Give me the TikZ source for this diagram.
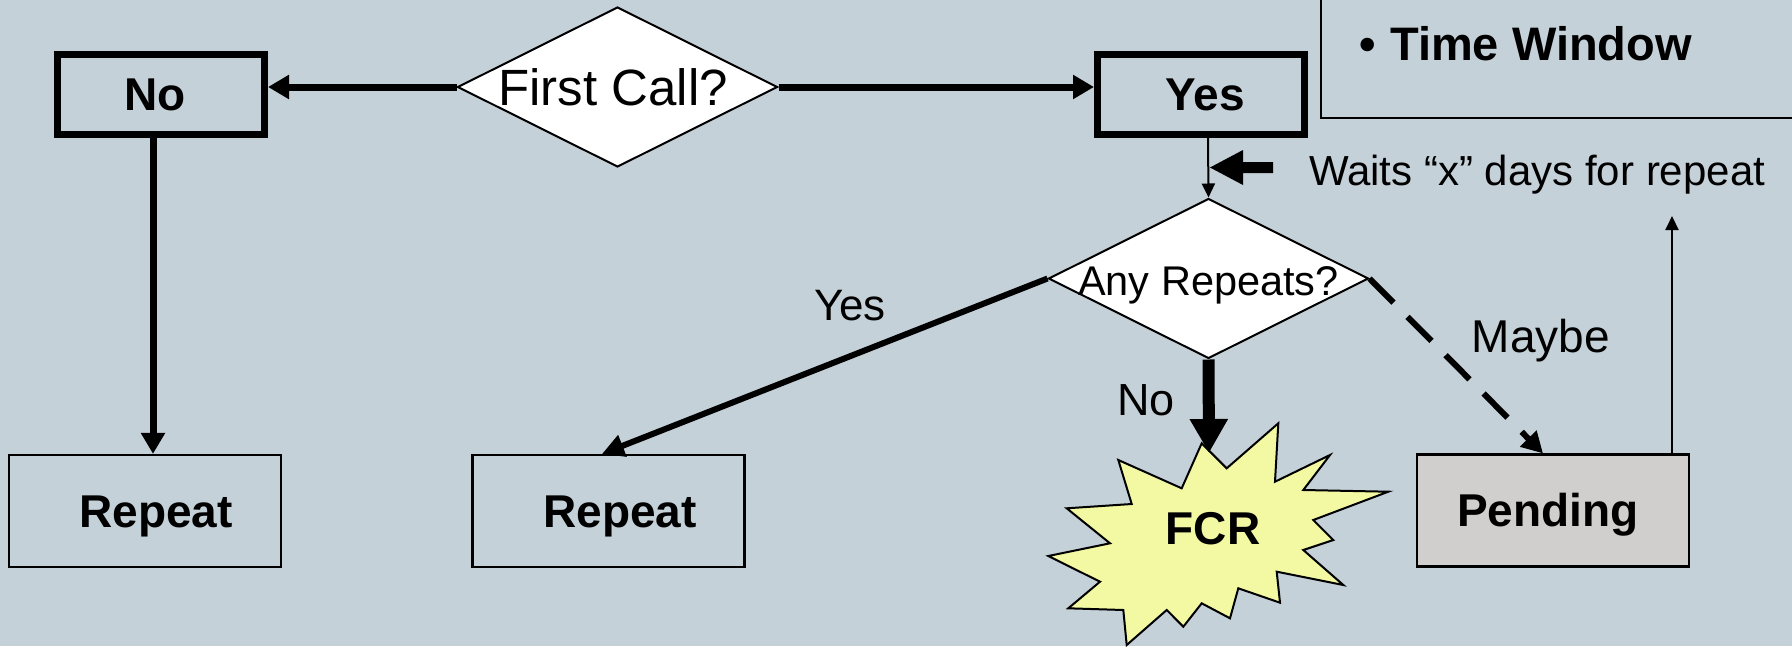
\documentclass[tikz,border=0pt]{standalone}
\usepackage{fontspec}
\setmainfont{Liberation Sans}
\usetikzlibrary{shapes.geometric,arrows.meta}
\definecolor{bgc}{RGB}{197,209,216}
\definecolor{fcrfill}{RGB}{243,249,162}
\definecolor{pendfill}{RGB}{208,207,205}
\tikzset{
  diag/.style={diamond, draw, fill=white, line width=2pt, inner sep=0pt,
    minimum width=320pt, minimum height=160pt},
  thickbox/.style={rectangle, draw, line width=7pt, inner sep=0pt,
    minimum width=207pt, minimum height=80pt},
  thinbox/.style={rectangle, draw, line width=2.2pt, inner sep=0pt,
    minimum width=272pt, minimum height=112pt},
  boldtxt/.style={inner sep=0pt, font=\fontsize{46}{55}\selectfont\bfseries,
    text height=32.9pt, text depth=0pt},
  fctxt/.style={inner sep=0pt, font=\fontsize{51}{60}\selectfont,
    text height=36.5pt, text depth=0pt},
  artxt/.style={inner sep=0pt, font=\fontsize{41.5}{50}\selectfont,
    text height=29.7pt, text depth=0pt},
  lbl/.style={inner sep=0pt, anchor=base},
  heavy/.style={line width=7pt, -{Triangle[length=21pt,width=23pt]}},
  slim/.style={line width=2pt, -{Triangle[length=14pt,width=13pt]}},
}
\begin{document}
\begin{tikzpicture}[x=1pt,y=-1pt]
\fill[bgc] (0,0) rectangle (1792,646);
\useasboundingbox (0,0) rectangle (1792,646);

% Time window box (runs off the page)
\draw[line width=2pt] (1321,-20) -- (1321,118) -- (1812,118);
\node[lbl, anchor=base west, font=\fontsize{47}{56}\selectfont\bfseries] (tw) at (1359,60)
  {\makebox[31pt][l]{•}Time Window};

% main nodes
\node[diag, label={[fctxt, xshift=-4.5pt]center:First Call?}] (fc) at (617.5,87) {};
\node[thickbox, label={[boldtxt, xshift=-6pt]center:No}] (no) at (161,94.5) {};
\node[thickbox, label={[boldtxt, xshift=4pt]center:Yes}] (yes) at (1201,94.5) {};
\node[diag, label={[artxt, yshift=-2pt]center:Any Repeats?}] (ar) at (1208.5,278.5) {};
\node[thinbox, label={[boldtxt, xshift=11pt]center:Repeat}] (r1) at (145,511) {};
\node[thinbox, label={[boldtxt, xshift=11.5pt]center:Repeat}] (r2) at (608.5,511) {};
\node[thinbox, fill=pendfill, label={[boldtxt, xshift=-5pt]center:Pending}] (pend) at (1553,510.5) {};

% FCR burst
\filldraw[fill=fcrfill, line width=2pt, line join=miter]
  (1201.7,443.3) -- (1226.7,468.3) -- (1278.3,423.3) -- (1275,481.7) --
  (1330,455) -- (1303.3,490) -- (1388.3,491.7) -- (1313.3,520) --
  (1333.3,540) -- (1303.3,550) -- (1343.3,585) -- (1276.7,571.7) --
  (1280,602.7) -- (1238.3,588.3) -- (1230,618.3) -- (1201.7,603.3) --
  (1183.3,626.7) -- (1166.7,610) -- (1126.7,645) -- (1123.3,610) --
  (1068.3,608.3) -- (1100,581.7) -- (1048.3,556) -- (1110,543.3) --
  (1066.7,508.3) -- (1131.7,504) -- (1118.3,460) -- (1181.7,488.3) -- cycle;
\node[lbl, font=\fontsize{46}{55}\selectfont\bfseries] (fcr) at (1213,544) {FCR};
\coordinate (fcrtop) at (1209,453);
\coordinate (up) at (1672,216);

% connectors
\draw[heavy] (fc.west) -- (fc.west -| no.east);
\draw[heavy] (fc.east) -- (fc.east -| yes.west);
\draw[heavy] ([xshift=-8pt]no.south) -- ([xshift=8pt]r1.north);
\draw[line width=6pt, -{Triangle[length=22pt,width=22pt]}] (ar.west) -- ([xshift=-6.5pt]r2.north);
\draw[slim] ([xshift=7pt]yes.south) -- (ar.north);
\draw[line width=12pt, -{Triangle[length=34pt,width=36pt]}] (ar.south) -- (fcrtop);
\draw[line width=6pt, dash pattern=on 34pt off 20pt, -{Triangle[length=21pt,width=22pt]}]
  (ar.east) -- ([xshift=-10pt]pend.north);
\draw[slim] ([xshift=119pt]pend.north) -- (up);

% block arrow
\fill (1210,167.5) -- (1243,150) -- (1243,162) -- (1273,162) -- (1273,173) --
  (1243,173) -- (1243,185) -- cycle;

% labels
\node[lbl, anchor=base west, font=\fontsize{42}{50}\selectfont] (waits) at (1309,185)
  {Waits “x” days for repeat};
\node[lbl, font=\fontsize{44}{52}\selectfont] (lyes) at (850,320) {Yes};
\node[lbl, font=\fontsize{45}{53}\selectfont] (lno) at (1146,415) {No};
\node[lbl, font=\fontsize{46}{54}\selectfont] (lmaybe) at (1541,352) {Maybe};
\end{tikzpicture}
\end{document}
